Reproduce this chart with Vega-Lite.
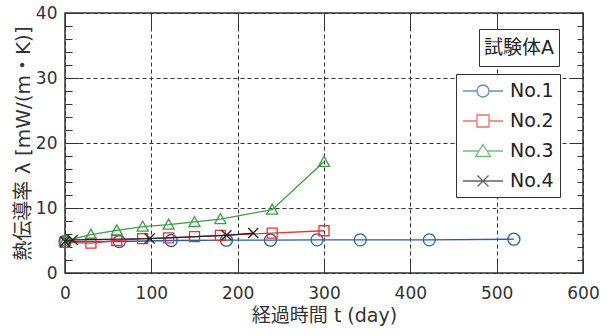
{
  "$schema": "https://vega.github.io/schema/vega-lite/v6.json",
  "width": 518,
  "height": 260,
  "autosize": {"type": "none"},
  "padding": {"left": 65, "top": 13, "right": 31, "bottom": 63},
  "background": "white",
  "config": {
    "font": "DejaVu Sans, Noto Sans CJK JP",
    "view": {"stroke": "#333", "strokeWidth": 1.5},
    "axis": {"labelFont": "DejaVu Sans, Noto Sans CJK JP", "titleFont": "DejaVu Sans, Noto Sans CJK JP", "labelColor": "#333", "titleColor": "#333", "tickColor": "#333", "tickWidth": 1, "domain": false, "grid": false, "labelFlush": false}
  },
  "data": {"values": [
    {"s": "No.1", "t": 0, "k": 4.85, "spec": "試験体A"},
    {"s": "No.1", "t": 63, "k": 4.85, "spec": "試験体A"},
    {"s": "No.1", "t": 123, "k": 5.0, "spec": "試験体A"},
    {"s": "No.1", "t": 187, "k": 5.05, "spec": "試験体A"},
    {"s": "No.1", "t": 238, "k": 5.05, "spec": "試験体A"},
    {"s": "No.1", "t": 292, "k": 5.1, "spec": "試験体A"},
    {"s": "No.1", "t": 342, "k": 5.1, "spec": "試験体A"},
    {"s": "No.1", "t": 422, "k": 5.1, "spec": "試験体A"},
    {"s": "No.1", "t": 520, "k": 5.2, "spec": "試験体A"},
    {"s": "No.2", "t": 0, "k": 4.7, "spec": "試験体A"},
    {"s": "No.2", "t": 30, "k": 4.6, "spec": "試験体A"},
    {"s": "No.2", "t": 60, "k": 5.0, "spec": "試験体A"},
    {"s": "No.2", "t": 90, "k": 5.3, "spec": "試験体A"},
    {"s": "No.2", "t": 120, "k": 5.4, "spec": "試験体A"},
    {"s": "No.2", "t": 150, "k": 5.6, "spec": "試験体A"},
    {"s": "No.2", "t": 180, "k": 5.8, "spec": "試験体A"},
    {"s": "No.2", "t": 240, "k": 6.15, "spec": "試験体A"},
    {"s": "No.2", "t": 300, "k": 6.5, "spec": "試験体A"},
    {"s": "No.3", "t": 0, "k": 4.95, "spec": "試験体A"},
    {"s": "No.3", "t": 30, "k": 5.9, "spec": "試験体A"},
    {"s": "No.3", "t": 60, "k": 6.55, "spec": "試験体A"},
    {"s": "No.3", "t": 90, "k": 7.15, "spec": "試験体A"},
    {"s": "No.3", "t": 120, "k": 7.45, "spec": "試験体A"},
    {"s": "No.3", "t": 150, "k": 7.85, "spec": "試験体A"},
    {"s": "No.3", "t": 180, "k": 8.3, "spec": "試験体A"},
    {"s": "No.3", "t": 240, "k": 9.75, "spec": "試験体A"},
    {"s": "No.3", "t": 300, "k": 17.1, "spec": "試験体A"},
    {"s": "No.4", "t": 0, "k": 4.85, "spec": "試験体A"},
    {"s": "No.4", "t": 9, "k": 5.1, "spec": "試験体A"},
    {"s": "No.4", "t": 98, "k": 5.3, "spec": "試験体A"},
    {"s": "No.4", "t": 187, "k": 5.8, "spec": "試験体A"},
    {"s": "No.4", "t": 218, "k": 6.15, "spec": "試験体A"}
  ]},
  "resolve": {"axis": {"x": "independent", "y": "independent"}},
  "layer": [
    {
      "transform": [{"filter": "datum.s === 'No.1'"}],
      "mark": {"type": "line", "color": "#2a5caa", "strokeWidth": 1.3, "point": {"filled": false, "shape": "M-1.2,0A1.2,1.2,0,1,1,1.2,0A1.2,1.2,0,1,1,-1.2,0", "size": 100, "strokeWidth": 1.3, "color": "#2a5caa"}},
      "encoding": {
        "x": {"field": "t", "type": "quantitative", "scale": {"domain": [0, 600], "nice": false, "zero": false},
          "axis": {"orient": "bottom", "values": [0, 100, 200, 300, 400, 500, 600], "ticks": false, "labels": true, "labelFontSize": 17, "labelPadding": 12, "grid": true, "gridDash": [4, 3], "gridColor": "#333", "gridWidth": 1, "title": "経過時間 t (day)", "titleFontSize": 19, "titleFontWeight": "normal", "titlePadding": 5}},
        "y": {"field": "k", "type": "quantitative", "scale": {"domain": [0, 40], "nice": false},
          "axis": {"orient": "left", "values": [0, 10, 20, 30, 40], "ticks": false, "labels": true, "labelFontSize": 17, "labelPadding": 8, "grid": true, "gridDash": [4, 3], "gridColor": "#333", "gridWidth": 1, "title": "熱伝導率 λ [mW/(m・K)]", "titleFontSize": 20, "titleFontWeight": "normal", "titlePadding": 2}}
      }
    },
    {
      "transform": [{"filter": "datum.s === 'No.2'"}],
      "mark": {"type": "line", "color": "#f03030", "strokeWidth": 1.3, "point": {"filled": false, "shape": "M-1,-1H1V1H-1Z", "size": 100, "strokeWidth": 1.3, "color": "#f03030"}},
      "encoding": {
        "x": {"field": "t", "type": "quantitative", "axis": {"orient": "bottom", "values": [0, 100, 200, 300, 400, 500, 600], "ticks": true, "tickSize": -13, "labels": false, "title": null}},
        "y": {"field": "k", "type": "quantitative", "axis": {"orient": "left", "values": [0, 10, 20, 30, 40], "ticks": true, "tickSize": -14, "labels": false, "title": null}}
      }
    },
    {
      "transform": [{"filter": "datum.s === 'No.3'"}],
      "mark": {"type": "line", "color": "#3a9e44", "strokeWidth": 1.3, "point": {"filled": false, "shape": "M0,-1.1L1.1,0.9H-1.1Z", "size": 100, "strokeWidth": 1.3, "color": "#3a9e44"}},
      "encoding": {
        "x": {"field": "t", "type": "quantitative", "axis": {"orient": "top", "values": [0, 100, 200, 300, 400, 500, 600], "ticks": true, "tickSize": -15, "labels": false, "title": null}},
        "y": {"field": "k", "type": "quantitative", "axis": {"orient": "left", "values": [2, 4, 6, 8, 12, 14, 16, 18, 22, 24, 26, 28, 32, 34, 36, 38], "ticks": true, "tickSize": -7, "labels": false, "title": null}}
      }
    },
    {
      "transform": [{"filter": "datum.s === 'No.4'"}],
      "mark": {"type": "line", "color": "#222222", "strokeWidth": 1.3, "point": {"filled": false, "shape": "M-1,-1L1,1M-1,1L1,-1", "size": 100, "strokeWidth": 1.3, "color": "#222222"}},
      "encoding": {
        "x": {"field": "t", "type": "quantitative", "axis": null},
        "y": {"field": "k", "type": "quantitative", "axis": {"orient": "right", "values": [0, 10, 20, 30, 40], "ticks": true, "tickSize": -13, "labels": false, "title": null}}
      }
    },
    {
      "transform": [{"filter": "false"}],
      "mark": {"type": "point", "filled": false, "size": 400, "strokeWidth": 1.3},
      "encoding": {
        "x": {"field": "t", "type": "quantitative", "axis": null},
        "y": {"field": "k", "type": "quantitative", "axis": {"orient": "right", "values": [2, 4, 6, 8, 12, 14, 16, 18, 22, 24, 26, 28, 32, 34, 36, 38], "ticks": true, "tickSize": -6, "labels": false, "title": null}},
        "color": {"field": "s", "type": "nominal", "scale": {"domain": ["No.1", "No.2", "No.3", "No.4"], "range": ["#2a5caa", "#f03030", "#3a9e44", "#222222"]},
          "legend": {"orient": "none", "legendX": 391, "legendY": 61, "title": null, "direction": "vertical",
            "labelFontSize": 19, "labelColor": "#222", "labelFont": "DejaVu Sans", "strokeColor": "#333", "fillColor": "white", "padding": 6,
            "symbolSize": 400, "symbolStrokeWidth": 1.3, "symbolOffset": 10, "labelOffset": 16, "rowPadding": 9}},
        "shape": {"field": "s", "type": "nominal", "scale": {"domain": ["No.1", "No.2", "No.3", "No.4"], "range": ["M-2,0H-0.6M0.6,0H2M-0.6,0A0.6,0.6,0,1,1,0.6,0A0.6,0.6,0,1,1,-0.6,0", "M-2,0H-0.6M0.6,0H2M-0.6,-0.6H0.6V0.6H-0.6Z", "M-2,0H-0.41M0.41,0H2M0,-0.65L0.75,0.55H-0.75Z", "M-2,0H2M-0.55,-0.55L0.55,0.55M-0.55,0.55L0.55,-0.55"]},
          "legend": {"orient": "none", "legendX": 391, "legendY": 61, "title": null, "direction": "vertical",
            "labelFontSize": 19, "labelColor": "#222", "labelFont": "DejaVu Sans", "strokeColor": "#333", "fillColor": "white", "padding": 6,
            "symbolSize": 400, "symbolStrokeWidth": 1.3, "symbolOffset": 10, "labelOffset": 16, "rowPadding": 9}}
      }
    },
    {
      "transform": [{"filter": "false"}],
      "mark": {"type": "point", "fillOpacity": 0, "strokeOpacity": 0},
      "encoding": {
        "x": {"field": "t", "type": "quantitative", "axis": null},
        "y": {"field": "k", "type": "quantitative", "axis": null},
        "opacity": {"field": "spec", "type": "nominal", "scale": {"domain": ["試験体A"]},
          "legend": {"orient": "none", "legendX": 414, "legendY": 16, "title": null, "labelFontSize": 19, "labelColor": "#222", "strokeColor": "#333", "fillColor": "white", "padding": 5,
            "symbolType": "M0,-1V1", "symbolSize": 729, "symbolOpacity": 0, "symbolStrokeWidth": 0, "labelOffset": -27}}
      }
    }
  ]
}
